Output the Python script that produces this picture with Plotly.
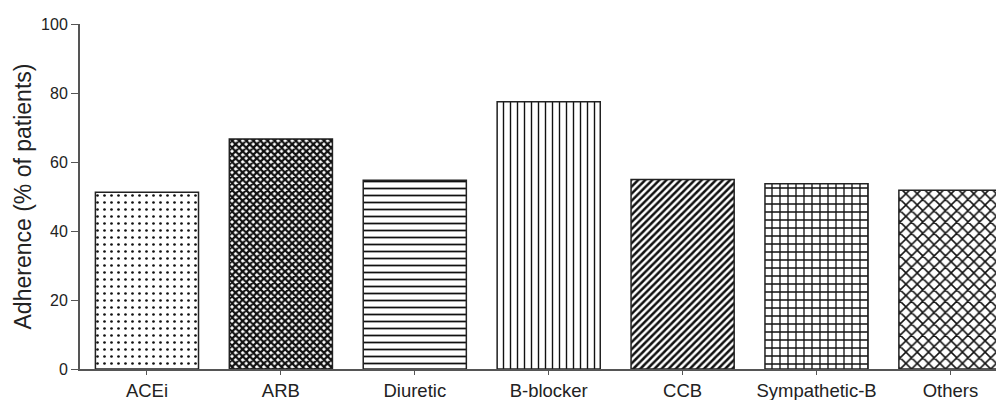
import plotly.graph_objects as go

categories = ["ACEi", "ARB", "Diuretic", "B-blocker", "CCB", "Sympathetic-B", "Others"]
adherence = [51.2, 66.7, 54.7, 77.5, 54.9, 53.7, 51.8]
pattern_shapes = [".", "x", "-", "|", "/", "+", "x"]
pattern_sizes = [7, 5, 7, 7, 5, 8, 8]
pattern_solidity = [0.12, 0.7, 0.25, 0.2, 0.5, 0.3, 0.35]
y_ticks = [0, 20, 40, 60, 80, 100]

fig = go.Figure(
    go.Bar(
        x=categories,
        y=adherence,
        width=0.77,
        marker=dict(
            color="white",
            line=dict(color="#222222", width=1.5),
            pattern=dict(
                shape=pattern_shapes,
                size=pattern_sizes,
                solidity=pattern_solidity,
                fgcolor="#111111",
                fgopacity=1,
                bgcolor="white",
                fillmode="overlay",
            ),
        ),
    )
)

# the page body has an 8px default margin; margins compensate for it
fig.update_layout(
    width=1004,
    height=400,
    margin=dict(l=72, r=8, t=16, b=39, autoexpand=False),
    plot_bgcolor="white",
    paper_bgcolor="white",
    font=dict(family="Liberation Sans, Arial, sans-serif", color="#222222", size=16),
    showlegend=False,
)
fig.update_xaxes(
    range=[-0.5, 6.4],
    automargin=False,
    showline=True,
    linecolor="#555555",
    linewidth=2,
    ticks="outside",
    ticklen=4,
    tickcolor="#555555",
    tickfont=dict(size=18.5),
    showgrid=False,
    zeroline=False,
)
fig.update_yaxes(
    range=[0, 100],
    automargin=False,
    tickvals=y_ticks,
    showline=True,
    linecolor="#555555",
    linewidth=2,
    ticks="outside",
    ticklen=7,
    tickcolor="#555555",
    tickfont=dict(size=16),
    showgrid=False,
    zeroline=False,
    title=dict(text="Adherence (% of patients)", font=dict(size=23), standoff=3),
)

fig.write_html("out.html")
